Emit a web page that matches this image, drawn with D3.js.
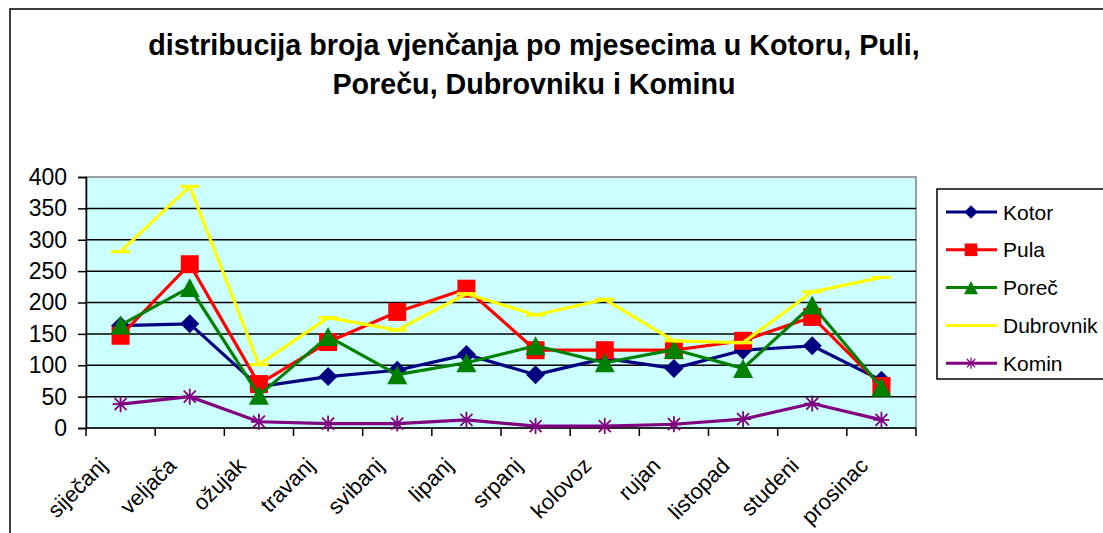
<!DOCTYPE html>
<html>
<head>
<meta charset="utf-8">
<script src="https://cdn.jsdelivr.net/npm/d3@7"></script>
<style>
  body { margin: 0; background: #fff; }
  text { font-family: "Liberation Sans", Arial, sans-serif; fill: #000; }
</style>
</head>
<body>
<div id="chart"></div>
<script>
// months (x categories)
var months = ['siječanj','veljača','ožujak','travanj','svibanj','lipanj','srpanj','kolovoz','rujan','listopad','studeni','prosinac'];
// series values
var kotor     = [163, 166, 66, 82, 92, 117, 85, 111, 95, 124, 131, 76];
var pula      = [147, 261, 70, 137, 185, 222, 124, 124, 124, 139, 177, 67];
var porec     = [164, 224, 52, 146, 85, 104, 131, 104, 125, 95, 196, 65];
var dubrovnik = [281, 385, 101, 176, 156, 214, 180, 205, 139, 136, 217, 240];
var komin     = [38, 50, 10, 7, 7, 13, 3, 3, 6, 14, 39, 13];
var seriesNames = ['Kotor','Pula','Poreč','Dubrovnik','Komin'];
var yTicks = [0, 50, 100, 150, 200, 250, 300, 350, 400];
var titleLines = ['distribucija broja vjenčanja po mjesecima u Kotoru, Puli,', 'Poreču, Dubrovniku i Kominu'];

var W = 1103, H = 533;
var plot = {left: 86, right: 916, top: 177, bottom: 428};

var series = [
	{name: seriesNames[0], values: kotor, color: '#000080', marker: 'diamond'},
	{name: seriesNames[1], values: pula, color: '#ff0000', marker: 'square'},
	{name: seriesNames[2], values: porec, color: '#008000', marker: 'triangle'},
	{name: seriesNames[3], values: dubrovnik, color: '#ffff00', marker: 'dash'},
	{name: seriesNames[4], values: komin, color: '#800080', marker: 'star'}
];

var svg = d3.select('#chart').append('svg')
	.attr('width', W)
	.attr('height', H);

// chart border (only top and left are visible in the frame)
svg.append('rect')
	.attr('x', 10).attr('y', 9)
	.attr('width', 1200).attr('height', 600)
	.attr('fill', 'none')
	.attr('stroke', '#000')
	.attr('stroke-width', 1.5);

// title
svg.append('g').selectAll('text')
	.data(titleLines)
	.enter().append('text')
	.attr('x', 534)
	.attr('y', (d, i) => 55 + i * 39)
	.attr('text-anchor', 'middle')
	.style('font-size', '28.7px')
	.style('font-weight', 'bold')
	.text(d => d);

var x = d3.scaleBand()
	.domain(months)
	.range([plot.left, plot.right]);
var y = d3.scaleLinear()
	.domain([0, 400])
	.range([plot.bottom, plot.top]);

// plot background
svg.append('rect')
	.attr('x', plot.left).attr('y', plot.top)
	.attr('width', plot.right - plot.left)
	.attr('height', plot.bottom - plot.top)
	.attr('fill', '#ccffff')
	.attr('stroke', '#808080')
	.attr('stroke-width', 1.5);

// gridlines
svg.append('g').selectAll('line')
	.data(yTicks.filter(d => d > 0 && d < 400))
	.enter().append('line')
	.attr('x1', plot.left).attr('x2', plot.right)
	.attr('y1', d => y(d)).attr('y2', d => y(d))
	.attr('stroke', '#000')
	.attr('stroke-width', 1.5);

// y axis
var yAxis = svg.append('g')
	.attr('transform', 'translate(' + plot.left + ',0)')
	.call(d3.axisLeft(y).tickValues(yTicks).tickSize(8).tickPadding(11));
yAxis.select('.domain').attr('stroke', '#000').attr('stroke-width', 1.5);
yAxis.selectAll('.tick line').attr('stroke', '#000').attr('stroke-width', 1.5);
yAxis.selectAll('.tick text')
	.style('font-size', '23px')
	.style('font-family', '"Liberation Sans", Arial, sans-serif')
	.attr('fill', '#000');

// x axis: ticks sit between categories
var xAxisG = svg.append('g')
	.attr('transform', 'translate(0,' + plot.bottom + ')');
xAxisG.append('line')
	.attr('x1', plot.left).attr('x2', plot.right)
	.attr('stroke', '#000').attr('stroke-width', 1.5);
var bounds = months.map(m => x(m)).concat([plot.right]);
xAxisG.selectAll('line.tick')
	.data(bounds)
	.enter().append('line')
	.attr('class', 'tick')
	.attr('x1', d => d).attr('x2', d => d)
	.attr('y1', 0).attr('y2', 8)
	.attr('stroke', '#000').attr('stroke-width', 1.5);
xAxisG.selectAll('text')
	.data(months)
	.enter().append('text')
	.attr('transform', d => 'translate(' + (x(d) + x.bandwidth() / 2 - 12) + ',39) rotate(-45)')
	.attr('text-anchor', 'end')
	.style('font-size', '22px')
	.text(d => d);

var cx = d => x(d) + x.bandwidth() / 2;

var line = d3.line()
	.x((d, i) => cx(months[i]))
	.y(d => y(d));

function drawMarker(g, type, color) {
	if (type === 'diamond') {
		g.append('path').attr('d', 'M0,-9.5L9.5,0L0,9.5L-9.5,0Z').attr('fill', color);
	} else if (type === 'square') {
		g.append('rect').attr('x', -9).attr('y', -9).attr('width', 18).attr('height', 18).attr('fill', color);
	} else if (type === 'triangle') {
		g.append('path').attr('d', 'M0,-9.5L10,9.5L-10,9.5Z').attr('fill', color);
	} else if (type === 'dash') {
		g.append('line').attr('x1', -9.5).attr('x2', 9.5).attr('stroke', color).attr('stroke-width', 3.2);
	} else if (type === 'star') {
		g.append('path')
			.attr('d', 'M-8,0L8,0M0,-8L0,8M-6,-6L6,6M-6,6L6,-6')
			.attr('stroke', color).attr('stroke-width', 1.8).attr('fill', 'none');
	}
}

var seriesG = svg.append('g').selectAll('g')
	.data(series)
	.enter().append('g');

seriesG.append('path')
	.attr('d', d => line(d.values))
	.attr('fill', 'none')
	.attr('stroke', d => d.color)
	.attr('stroke-width', 3.2)
	.attr('stroke-linejoin', 'round');

seriesG.each(function(s) {
	var grp = d3.select(this);
	s.values.forEach(function(v, i) {
		var m = grp.append('g')
			.attr('transform', 'translate(' + cx(months[i]) + ',' + y(v) + ')');
		drawMarker(m, s.marker, s.color);
	});
});

// legend
var legend = svg.append('g');
legend.append('rect')
	.attr('x', 937).attr('y', 189)
	.attr('width', 200).attr('height', 190)
	.attr('fill', '#fff')
	.attr('stroke', '#000')
	.attr('stroke-width', 1.5);
var items = legend.selectAll('g.item')
	.data(series)
	.enter().append('g')
	.attr('class', 'item')
	.attr('transform', (d, i) => 'translate(0,' + (212 + i * 37.8) + ')');
items.append('line')
	.attr('x1', 946).attr('x2', 997)
	.attr('stroke', d => d.color)
	.attr('stroke-width', 3);
items.each(function(s) {
	var m = d3.select(this).append('g');
	drawMarker(m, s.marker, s.color);
	m.attr('transform', 'translate(971,0) scale(0.7)');
});
items.append('text')
	.attr('x', 1003)
	.attr('dy', '0.36em')
	.style('font-size', '21px')
	.text(d => d.name);
</script>
</body>
</html>
